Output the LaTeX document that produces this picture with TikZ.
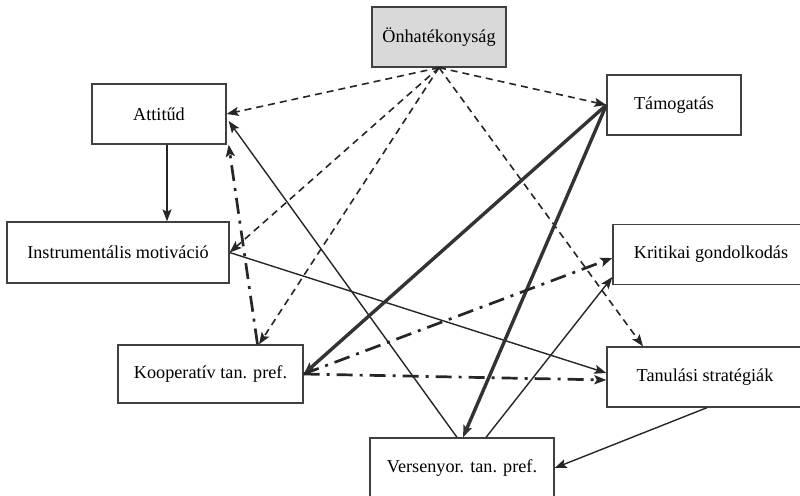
\documentclass[tikz,border=0pt]{standalone}
\usepackage{fontspec}
\setmainfont{Liberation Serif}
\usetikzlibrary{arrows.meta}
\begin{document}
\begin{tikzpicture}[x=1pt,y=-1pt,
  box/.style={draw=black!75, line width=1.3pt, fill=white, inner sep=0pt,
    minimum height=60pt, font=\fontsize{18.2}{21}\selectfont},
  tip/.style={-{Stealth[length=12pt,width=9pt,inset=2.5pt]}},
  solidarr/.style={tip, line width=1.4pt, draw=black!85},
  heavy/.style={tip, line width=3.4pt, draw=black!80},
  dasharr/.style={tip, line width=1.6pt, draw=black!85, dash pattern=on 7pt off 5pt},
  dotdasharr/.style={tip, line width=2.7pt, draw=black!85, dash pattern=on 16pt off 7pt on 3pt off 7pt},
]
\clip (0,0) rectangle (800,495);

% constructs
\node[box, fill=black!15, minimum width=134pt] (onh) at (439,37) {Önhatékonyság};
\node[box, minimum width=134pt] (att) at (159,114) {Attitűd};
\node[box, minimum width=134pt] (tam) at (674,105) {Támogatás};
\node[box, minimum width=222pt, minimum height=61pt] (ins) at (118,252.5) {Instrumentális motiváció};
\node[box, minimum width=196pt] (kri) at (711,254.5) {Kritikai gondolkodás};
\node[box, minimum width=185pt, minimum height=58pt] (koop) at (210.5,374) {Kooperatív tan. pref.};
\node[box, minimum width=196pt] (tan) at (705,377) {Tanulási stratégiák};
\node[box, minimum width=184pt] (ver) at (462,468) {Versenyor. tan. pref.};

% paths from self-efficacy
\draw[dasharr] (onh.south) -- (att.east);
\draw[dasharr] (onh.south) -- (tam.west);
\draw[dasharr] (onh.south) -- (ins.east);
\draw[dasharr] (onh.south) -- ([xshift=48.5pt]koop.north);
\draw[dasharr] (onh.south) -- ([xshift=-62pt]tan.north);

% remaining paths
\draw[solidarr] ([xshift=8pt]att.south) -- ([xshift=8pt]att.south |- ins.north);
\draw[dotdasharr] ([xshift=47pt]koop.north) -- ([xshift=2pt]att.south east);
\draw[solidarr] ([xshift=-5pt]ver.north) -- ([xshift=2pt,yshift=-7pt]att.east);
\draw[solidarr] (ins.east) -- ([yshift=4pt]tan.west);
\draw[heavy] (tam.west) -- (koop.east);
\draw[heavy] (tam.west) -- ([xshift=1pt]ver.north);
\draw[dotdasharr] (koop.east) -- ([yshift=-3.5pt]kri.west);
\draw[dotdasharr] (koop.east) -- ([yshift=-3pt]tan.west);
\draw[solidarr] ([xshift=24pt]ver.north) -- ([yshift=-22.5pt]kri.west);
\draw[solidarr] ([xshift=2pt]tan.south) -- (ver.east);
\end{tikzpicture}
\end{document}
